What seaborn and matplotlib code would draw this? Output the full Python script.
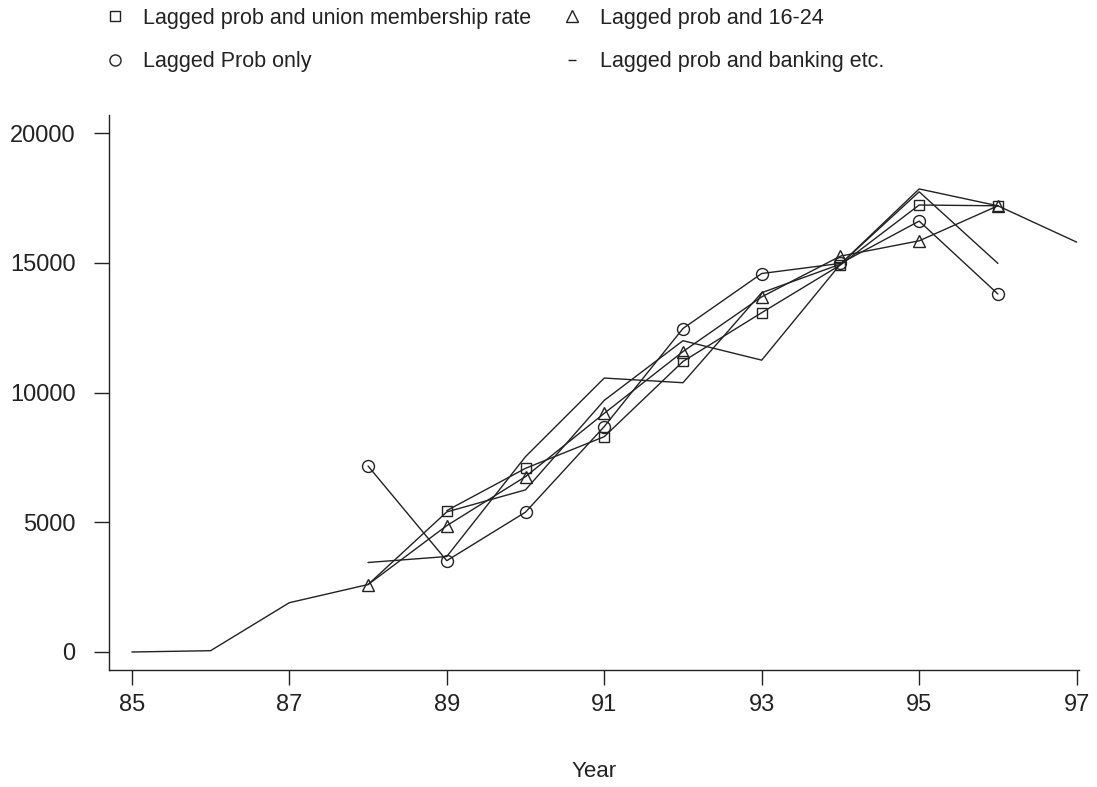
import matplotlib
matplotlib.use("Agg")
import matplotlib.pyplot as plt
from matplotlib.lines import Line2D
import seaborn as sns
import pandas as pd

# ---- data ----
years_actual = [85, 86, 87, 88, 89, 90, 91, 92, 93, 94, 95, 96, 97]
actual = [0, 50, 1900, 2600, 5400, 6250, 9700, 12000, 11250, 14950, 17850, 17200, 15800]

years_union = [89, 90, 91, 92, 93, 94, 95, 96]
union = [5450, 7080, 8300, 11200, 13080, 14920, 17230, 17200]

years_youth = [88, 89, 90, 91, 92, 93, 94, 95, 96]
youth = [2600, 4870, 6760, 9200, 11580, 13690, 15260, 15850, 17200]

years_prob = [88, 89, 90, 91, 92, 93, 94, 95, 96]
prob_only = [7170, 3520, 5390, 8690, 12470, 14590, 14980, 16610, 13800]

years_bank = [88, 89, 90, 91, 92, 93, 94, 95, 96]
banking = [3450, 3680, 7530, 10560, 10380, 13850, 14950, 17740, 14980]

labels = ["Lagged prob and union membership rate", "Lagged Prob only",
          "Lagged prob and 16-24", "Lagged prob and banking etc."]
x_ticks = [85, 87, 89, 91, 93, 95, 97]
y_ticks = [0, 5000, 10000, 15000, 20000]
x_label = "Year"

sns.set_theme(style="white")
plt.rcParams['font.family'] = ['Liberation Sans', 'DejaVu Sans']

fig = plt.figure(figsize=(10.97, 7.87), dpi=100)
ax = fig.add_axes([109/1097, 1-670/787, (1079-109)/1097, (670-115)/787])

ink = "#222222"
lw = 1.0

def draw(xs, ys, marker, ms):
    df = pd.DataFrame({"x": xs, "y": ys})
    sns.lineplot(data=df, x="x", y="y", ax=ax, color=ink, linewidth=lw,
                 marker=marker, markersize=ms, markerfacecolor="none",
                 markeredgecolor=ink, markeredgewidth=1.0, sort=False)

draw(years_actual, actual, None, 0)
draw(years_bank, banking, None, 0)
draw(years_union, union, "s", 7.5)
draw(years_youth, youth, "^", 8.6)
draw(years_prob, prob_only, "o", 8.6)

ax.set_xlim(84.71, 97.03)
ax.set_ylim(-694, 20700)
ax.set_xticks(x_ticks)
ax.set_xticklabels([str(v) for v in x_ticks])
ax.set_yticks(y_ticks)
ax.set_yticklabels([str(v) for v in y_ticks])
ax.set_xlabel(x_label, fontsize=16, color=ink, labelpad=33)
ax.set_ylabel("")
for s in ["top", "right"]:
    ax.spines[s].set_visible(False)
for s in ["left", "bottom"]:
    ax.spines[s].set_color(ink)
    ax.spines[s].set_linewidth(1.0)
ax.tick_params(axis="both", direction="out", length=11, width=1.0, color=ink,
               labelsize=17, labelcolor=ink, bottom=True, left=True)
ax.tick_params(axis="y", pad=13)
ax.tick_params(axis="x", pad=6)

handles = [
    Line2D([], [], linestyle="none", marker="s", markersize=7, markerfacecolor="none",
           markeredgecolor=ink, markeredgewidth=1.0),
    Line2D([], [], linestyle="none", marker="o", markersize=8, markerfacecolor="none",
           markeredgecolor=ink, markeredgewidth=1.0),
    Line2D([], [], linestyle="none", marker="^", markersize=8, markerfacecolor="none",
           markeredgecolor=ink, markeredgewidth=1.0),
    Line2D([], [], linestyle="none", marker="_", markersize=6, markerfacecolor="none",
           markeredgecolor=ink, markeredgewidth=1.0),
]
fig.legend(handles, labels, loc="upper left", bbox_to_anchor=(104/1097, 1-8/787),
           ncol=2, frameon=False, fontsize=15.5, handlelength=1.0,
           handletextpad=0.8, columnspacing=1.4, labelspacing=1.04,
           borderpad=0, borderaxespad=0, labelcolor=ink)

fig.savefig("out.png", dpi=100)
